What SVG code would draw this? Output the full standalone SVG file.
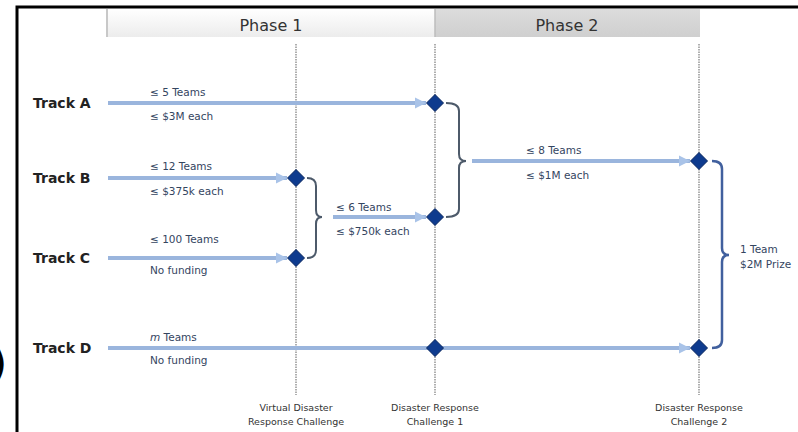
<svg xmlns="http://www.w3.org/2000/svg" width="798" height="432" viewBox="0 0 798 432">
<defs>
<linearGradient id="g1" x1="0" y1="0" x2="0" y2="1"><stop offset="0" stop-color="#ffffff"/><stop offset="1" stop-color="#ececec"/></linearGradient>
<linearGradient id="g2" x1="0" y1="0" x2="0" y2="1"><stop offset="0" stop-color="#dcdcdc"/><stop offset="1" stop-color="#cfcfcf"/></linearGradient>
<marker id="ah" viewBox="0 0 10 10" refX="10" refY="5" markerWidth="11" markerHeight="12" markerUnits="userSpaceOnUse" orient="auto"><path d="M0,0 L10,5 L0,10 z" fill="#a9c3e8"/></marker>
<path id="dm" d="M0,-8.5 L8.5,0 L0,8.5 L-8.5,0 z"/>
</defs>
<style>
.trk{font-family:"DejaVu Sans",Verdana,sans-serif;font-weight:bold;font-size:14px;fill:#222}
.lbl{font-family:"DejaVu Sans",Verdana,sans-serif;font-size:10.5px;fill:#34455f}
.bot{font-family:"DejaVu Sans",Verdana,sans-serif;font-size:9.5px;fill:#333;text-anchor:middle}
.ph{font-family:"DejaVu Sans",Verdana,sans-serif;font-size:16px;fill:#333;text-anchor:middle}
.arr{stroke:#9ab5dd;stroke-width:4;fill:none}
.vl{stroke:#7a7a7a;stroke-width:1.2;stroke-dasharray:1.5 1;fill:none}
.br{stroke:#4d5a6a;stroke-width:2;fill:none}
.dia{fill:#0e3b8e;stroke:#06245e;stroke-width:1}
</style>
<rect width="798" height="432" fill="#fff"/>
<text x="7" y="377" font-family="DejaVu Sans,sans-serif" font-weight="bold" font-size="40" text-anchor="end" fill="#000">)</text>
<g id="frame">
<path d="M17,432 L17,7 L798,7" stroke="#000" stroke-width="3" fill="none"/>
</g>
<g id="phase1">
<rect x="107" y="9" width="328" height="28" fill="url(#g1)"/>
<line x1="107" y1="9" x2="107" y2="37" stroke="#c8c8c8" stroke-width="2"/>
<text class="ph" x="271" y="31">Phase 1</text>
</g>
<g id="phase2">
<rect x="435" y="9" width="265" height="28" fill="url(#g2)"/>
<line x1="435" y1="9" x2="435" y2="37" stroke="#bdbdbd" stroke-width="1.5"/>
<text class="ph" x="567" y="31">Phase 2</text>
</g>
<g id="milestones">
<line class="vl" x1="296" y1="44" x2="296" y2="395"/>
<line class="vl" x1="435" y1="44" x2="435" y2="395"/>
<line class="vl" x1="699" y1="44" x2="699" y2="395"/>
</g>
<g id="connectors">
<line class="arr" x1="108" y1="103" x2="426" y2="103" marker-end="url(#ah)"/>
<line class="arr" x1="108" y1="178" x2="287" y2="178" marker-end="url(#ah)"/>
<line class="arr" x1="108" y1="258" x2="287" y2="258" marker-end="url(#ah)"/>
<line class="arr" x1="108" y1="348" x2="690" y2="348" marker-end="url(#ah)"/>
<line class="arr" x1="333" y1="217" x2="426" y2="217" marker-end="url(#ah)"/>
<line class="arr" x1="472" y1="161" x2="690" y2="161" marker-end="url(#ah)"/>
<path class="br" d="M307,178 Q316,178 316,186 L316,210 Q316,217 322,217 Q316,217 316,224 L316,250 Q316,258 307,258"/>
<path class="br" d="M446,103 Q459,103 459,111 L459,154 Q459,161 466,161 Q459,161 459,168 L459,209 Q459,217 446,217"/>
<path d="M712,161 Q722,161 722,169 L722,248 Q722,255 729,255 Q722,255 722,262 L722,340 Q722,348 712,348" stroke="#41609e" stroke-width="2.5" fill="none"/>
</g>
<g id="trackA">
<text class="trk" x="33" y="108">Track A</text>
<text class="lbl" x="150" y="96">≤ 5 Teams</text>
<text class="lbl" x="150" y="120">≤ $3M each</text>
</g>
<g id="trackB">
<text class="trk" x="33" y="183">Track B</text>
<text class="lbl" x="150" y="170">≤ 12 Teams</text>
<text class="lbl" x="150" y="195">≤ $375k each</text>
</g>
<g id="trackC">
<text class="trk" x="33" y="263">Track C</text>
<text class="lbl" x="150" y="243">≤ 100 Teams</text>
<text class="lbl" x="150" y="274">No funding</text>
</g>
<g id="trackD">
<text class="trk" x="33" y="353">Track D</text>
<text class="lbl" x="150" y="341"><tspan font-style="italic">m</tspan> Teams</text>
<text class="lbl" x="150" y="364">No funding</text>
</g>
<g id="merge1">
<text class="lbl" x="336" y="211">≤ 6 Teams</text>
<text class="lbl" x="336" y="235">≤ $750k each</text>
</g>
<g id="merge2">
<text class="lbl" x="526" y="154">≤ 8 Teams</text>
<text class="lbl" x="526" y="179">≤ $1M each</text>
</g>
<g id="prize">
<text class="lbl" x="740" y="253">1 Team</text>
<text class="lbl" x="740" y="268">$2M Prize</text>
</g>
<g id="diamonds">
<use href="#dm" class="dia" x="296" y="178"/>
<use href="#dm" class="dia" x="296" y="258"/>
<use href="#dm" class="dia" x="435" y="103"/>
<use href="#dm" class="dia" x="435" y="217"/>
<use href="#dm" class="dia" x="435" y="348"/>
<use href="#dm" class="dia" x="699" y="161"/>
<use href="#dm" class="dia" x="699" y="348"/>
</g>
<g id="vdrc">
<text class="bot" x="296" y="411">Virtual Disaster</text>
<text class="bot" x="296" y="425">Response Challenge</text>
</g>
<g id="drc1">
<text class="bot" x="435" y="411">Disaster Response</text>
<text class="bot" x="435" y="425">Challenge 1</text>
</g>
<g id="drc2">
<text class="bot" x="699" y="411">Disaster Response</text>
<text class="bot" x="699" y="425">Challenge 2</text>
</g>
</svg>
